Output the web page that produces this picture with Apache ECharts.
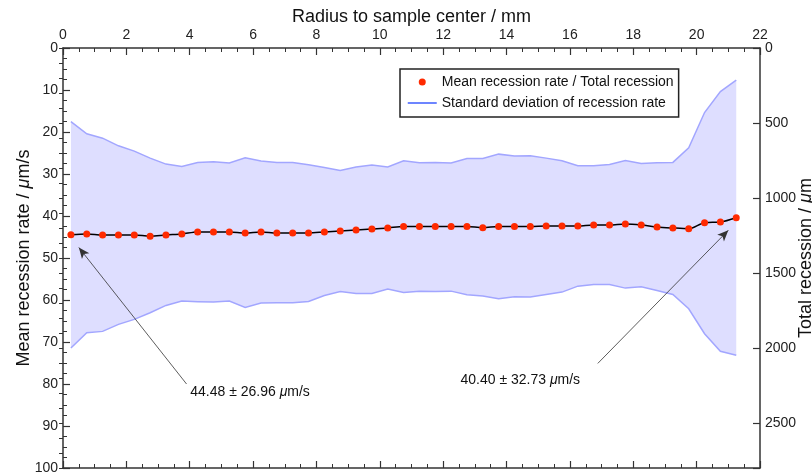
<!DOCTYPE html>
<html><head><meta charset="utf-8">
<script src="https://cdn.jsdelivr.net/npm/echarts@6/dist/echarts.min.js"></script>
<style>html,body{margin:0;padding:0;background:#fff}#c{width:812px;height:475px}</style>
</head><body><div id="c"></div>
<script>
// ---- data ----
const radius = [0.25, 0.75, 1.25, 1.75, 2.25, 2.75, 3.25, 3.75, 4.25, 4.75, 5.25, 5.75, 6.25, 6.75, 7.25, 7.75, 8.25, 8.75, 9.25, 9.75, 10.25, 10.75, 11.25, 11.75, 12.25, 12.75, 13.25, 13.75, 14.25, 14.75, 15.25, 15.75, 16.25, 16.75, 17.25, 17.75, 18.25, 18.75, 19.25, 19.75, 20.25, 20.75, 21.25];
const meanRate = [44.48, 44.26, 44.50, 44.50, 44.50, 44.82, 44.50, 44.26, 43.79, 43.79, 43.79, 44.03, 43.79, 44.03, 44.03, 44.03, 43.79, 43.55, 43.32, 43.08, 42.84, 42.52, 42.52, 42.52, 42.52, 42.52, 42.77, 42.52, 42.52, 42.52, 42.37, 42.37, 42.37, 42.13, 42.13, 41.89, 42.13, 42.61, 42.85, 43.01, 41.58, 41.42, 40.40];
const bandTop = [17.52, 20.44, 21.47, 23.29, 24.55, 26.22, 27.64, 28.19, 27.24, 27.09, 27.40, 26.14, 26.93, 27.24, 27.24, 27.80, 28.43, 29.15, 28.35, 27.88, 28.35, 26.85, 27.30, 27.24, 27.40, 26.29, 26.29, 25.27, 25.74, 25.66, 26.22, 26.85, 28.04, 28.04, 27.72, 26.77, 27.48, 27.32, 27.24, 23.76, 15.37, 10.38, 7.67];
const bandBottom = [71.44, 67.78, 67.47, 65.80, 64.62, 63.03, 61.29, 60.26, 60.42, 60.50, 60.26, 61.77, 60.74, 60.66, 60.66, 60.34, 58.92, 57.97, 58.44, 58.44, 57.41, 58.20, 57.93, 57.97, 57.89, 58.76, 59.07, 59.71, 59.23, 59.31, 58.68, 58.12, 56.70, 56.30, 56.30, 57.17, 56.86, 57.73, 58.68, 62.08, 68.02, 72.22, 73.13];
const annotationText = ['44.48 \u00b1 26.96 {i|\u03bc}m/s', '40.40 \u00b1 32.73 {i|\u03bc}m/s'];
const annotationTextAt = [[4.0, 81.95], [12.53, 79.0]];
const arrowFrom = [[3.9, 80.0], [16.88, 75.1]];
const arrowTo = [[0.50, 47.5], [21.0, 43.4]];
const meanName = 'Mean recession rate / Total recession';
const sdName = 'Standard deviation of recession rate';

// ---- styles ----
const font = "'Liberation Sans', Arial, Helvetica, sans-serif";
const axisColor = '#333';
const edgeColor = '#a2a6ff';
const fillColor = '#dedeff';
const dotColor = '#ff2a00';

function baseAxis(extra) {
  return Object.assign({
    type: 'value',
    nameMoveOverlap: false,
    axisLine: { show: true, onZero: false, lineStyle: { color: axisColor, width: 1.5 } },
    axisTick: { show: true, inside: true, length: 7, lineStyle: { color: axisColor, width: 1.2 } },
    minorTick: { show: true, splitNumber: 4, length: 4, lineStyle: { color: axisColor, width: 1 } },
    axisLabel: { fontSize: 14, color: '#222', fontFamily: font, margin: 5 },
    splitLine: { show: false },
    minorSplitLine: { show: false },
    nameTextStyle: { fontSize: 18, color: '#111', fontFamily: font, rich: { i: { fontSize: 18, fontStyle: 'italic', fontFamily: font, color: '#111' } } }
  }, extra);
}

const chart = echarts.init(document.getElementById('c'), null, { renderer: 'canvas' });
chart.setOption({
  animation: false,
  backgroundColor: '#fff',
  grid: { left: 63, right: 52, top: 48, bottom: 7, containLabel: false, outerBoundsMode: 'none' },
  legend: {
    orient: 'vertical', left: 400, top: 69,
    padding: [6, 5, 7, 7], itemGap: 7, itemWidth: 29, itemHeight: 7,
    borderColor: '#222', borderWidth: 1.5, backgroundColor: '#fff',
    textStyle: { fontSize: 14, color: '#111', fontFamily: font },
    selectedMode: false,
    data: [
      { name: meanName, icon: 'circle', itemStyle: { color: dotColor } },
      { name: sdName, lineStyle: { color: '#3d5cff', width: 1.5 }, itemStyle: { color: 'rgba(0,0,0,0)', borderColor: 'rgba(0,0,0,0)', borderWidth: 0 } }
    ]
  },
  xAxis: [
    baseAxis({ position: 'top', min: 0, max: 22, interval: 2, name: 'Radius to sample center / mm', nameLocation: 'middle', nameGap: 22, axisLabel: { fontSize: 14, color: '#222', fontFamily: font, margin: 6 } }),
    baseAxis({ position: 'bottom', min: 0, max: 22, interval: 2, axisLabel: { show: false } })
  ],
  yAxis: [
    baseAxis({ position: 'left', inverse: true, min: 0, max: 100, interval: 10, name: 'Mean recession rate / {i|\u03bc}m/s', nameLocation: 'middle', nameGap: 30 }),
    baseAxis({ position: 'right', inverse: true, min: 0, max: 2800, interval: 500, name: 'Total recession / {i|\u03bc}m', nameLocation: 'middle', nameGap: 37,
      minorTick: { show: false },
      axisLabel: { fontSize: 14, color: '#222', fontFamily: font, margin: 5, formatter: v => (v % 500 === 0 ? String(v) : '') } }),
    baseAxis({ position: 'right', inverse: true, min: 0, max: 2800, interval: 100, axisLine: { show: false },
      axisTick: { show: true, inside: true, length: 4, lineStyle: { color: axisColor, width: 1 } },
      minorTick: { show: false }, axisLabel: { show: false } })
  ],
  series: [
    {
      type: 'custom', name: 'sdBand', silent: true, z: 1,
      data: radius.map((x, i) => [x, bandTop[i], bandBottom[i]]),
      encode: { x: 0, y: [1, 2] },
      renderItem: (params, api) => {
        if (params.dataIndex !== 0) return null;
        const topPts = radius.map((x, i) => api.coord([x, bandTop[i]]));
        const botPts = radius.map((x, i) => api.coord([x, bandBottom[i]]));
        return {
          type: 'group',
          children: [
            { type: 'polygon', shape: { points: topPts.concat(botPts.slice().reverse()) }, style: { fill: fillColor, stroke: null } },
            { type: 'polyline', shape: { points: topPts }, style: { stroke: edgeColor, lineWidth: 1.5, fill: null } },
            { type: 'polyline', shape: { points: botPts }, style: { stroke: edgeColor, lineWidth: 1.5, fill: null } }
          ]
        };
      }
    },
    {
      type: 'line', name: sdName, symbol: 'none', silent: true, data: [],
      lineStyle: { color: '#3d5cff', width: 1.5 }
    },
    {
      type: 'line', name: meanName, symbol: 'circle', symbolSize: 7, silent: true,
      data: radius.map((x, i) => [x, meanRate[i]]),
      smooth: 0.3,
      itemStyle: { color: dotColor, borderWidth: 0 },
      lineStyle: { color: '#000', width: 1.5 }, z: 5,
      markLine: {
        silent: true, animation: false,
        symbol: ['none', 'arrow'], symbolSize: [7, 11],
        lineStyle: { color: '#333', width: 0.8, type: 'solid' },
        label: { show: false },
        emphasis: { disabled: true },
        data: arrowFrom.map((f, i) => [{ coord: f }, { coord: arrowTo[i] }])
      },
      markPoint: {
        silent: true, animation: false,
        symbol: 'circle', symbolSize: 1,
        itemStyle: { color: 'rgba(0,0,0,0)' },
        label: { show: true, position: 'right', distance: 0, color: '#111', fontSize: 14, fontFamily: font, formatter: '{b}',
          rich: { i: { fontSize: 14, fontStyle: 'italic', fontFamily: font, color: '#111' } } },
        data: annotationText.map((t, i) => ({ name: t, coord: annotationTextAt[i] }))
      }
    }
  ]
});
</script>
</body></html>
